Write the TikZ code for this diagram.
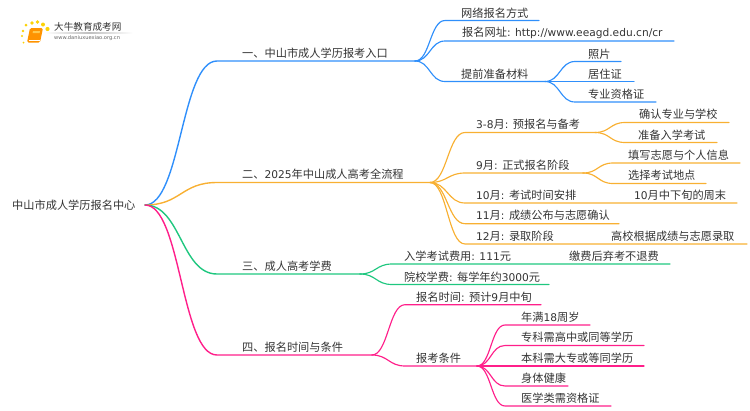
\documentclass[tikz,border=0pt]{standalone}
\usepackage{fontspec}
\setmainfont{Noto Sans CJK SC}
\newfontfamily\latf[Scale=0.95]{DejaVu Sans}
\newcommand\lat[1]{{\latf #1}}
\definecolor{cblue}{HTML}{2F8FFB}
\definecolor{corange}{HTML}{F8B032}
\definecolor{cgreen}{HTML}{1FC77F}
\definecolor{cpink}{HTML}{FF1F8A}
\definecolor{ctext}{HTML}{333333}
\tikzset{
  label/.style={anchor=west,inner sep=0pt,text=ctext,font=\fontsize{11.2}{13}\selectfont},
  link/.style={line width=1.15pt,line cap=round},
  main/.style={line width=1.4pt,line cap=round},
  dot/.style={fill=#1,draw=none},
}
\newcommand\linkk[5]{\draw[#1] (#2) .. controls ([xshift=#5pt]#2) and ([xshift=-#5pt]#3) .. (#3) -- (#4);}
\begin{document}
\begin{tikzpicture}[x=1pt,y=-1pt]
\useasboundingbox (0,0) rectangle (750,410);
% logo
\fill[dot=yellow!70!orange] (23,31) circle (1.3);
\fill[dot=yellow!70!orange] (26,25) circle (1.5);
\fill[dot=yellow!70!orange] (32,23) circle (1.8);
\fill[dot=yellow!70!orange] (37.5,22) circle (1.9);
\fill[dot=yellow!70!orange] (43,24.5) circle (2);
\fill[dot=yellow!70!orange] (47.5,29) circle (2.1);
\fill[dot=yellow!70!orange] (22,36) circle (1.1);
\fill[dot=yellow!70!orange] (23.5,42.5) circle (1);
\fill[orange!85!yellow,rounded corners=1.5pt] (30,28) -- (43,28) -- (40,42.5) -- (27,42.5) -- cycle;
\fill[orange!60!yellow!70!white] (33,31) -- (40,31) -- (39.6,33) -- (32.6,33) -- cycle;
\draw[white,line width=.5pt] (28.5,40.5) -- (40,40.5);
\shade[left color=white,right color=white,middle color=black!25] (45,32.9) rectangle (133,33.4);
\node[label,font=\fontsize{9.6}{11}\selectfont] (logoa) at (54,27) {大牛教育成考网};
\node[label,font=\fontsize{5.4}{6}\selectfont\latf,text=black!60] (logob) at (54,38.5) {www.daniuxuexiao.org.cn};
% text
\node[label] (root) at (12,205) {中山市成人学历报名中心};
\node[label] (ta) at (242,53) {一、中山市成人学历报考入口};
\node[label] (tb) at (242,174) {二、\lat{2025}年中山成人高考全流程};
\node[label] (tc) at (242,266) {三、成人高考学费};
\node[label] (td) at (242,347) {四、报名时间与条件};
\node[label] (aa) at (461,13) {网络报名方式};
\node[label] (ab) at (462,33) {报名网址\lat{: http://www.eeagd.edu.cn/cr}};
\node[label] (ac) at (461,74) {提前准备材料};
\node[label] (aca) at (588,54) {照片};
\node[label] (acb) at (588,74) {居住证};
\node[label] (acc) at (588,94) {专业资格证};
\node[label] (ba) at (476,124) {\lat{3-8}月\lat{: }预报名与备考};
\node[label] (baa) at (639,114) {确认专业与学校};
\node[label] (bab) at (638,135) {准备入学考试};
\node[label] (bb) at (476,165) {\lat{9}月\lat{: }正式报名阶段};
\node[label] (bba) at (628,155) {填写志愿与个人信息};
\node[label] (bbb) at (628,175) {选择考试地点};
\node[label] (bc) at (476,195) {\lat{10}月\lat{: }考试时间安排};
\node[label] (bca) at (634,195) {\lat{10}月中下旬的周末};
\node[label] (bd) at (476,215) {\lat{11}月\lat{: }成绩公布与志愿确认};
\node[label] (be) at (476,236) {\lat{12}月\lat{: }录取阶段};
\node[label] (bea) at (611,236) {高校根据成绩与志愿录取};
\node[label] (ca) at (404,256) {入学考试费用\lat{: 111}元};
\node[label] (caa) at (569,256) {缴费后弃考不退费};
\node[label] (cb) at (404,277) {院校学费\lat{: }每学年约\lat{3000}元};
\node[label] (da) at (416,297) {报名时间\lat{: }预计\lat{9}月中旬};
\node[label] (db) at (416,358) {报考条件};
\node[label] (dba) at (521,317) {年满\lat{18}周岁};
\node[label] (dbb) at (521,337) {专科需高中或同等学历};
\node[label] (dbc) at (521,358) {本科需大专或等同学历};
\node[label] (dbd) at (521,378) {身体健康};
\node[label] (dbe) at (521,398) {医学类需资格证};
% hubs and line ends
\coordinate (hr) at (145,205);
\coordinate (pa) at (217,61);  \coordinate (ea) at (415,61);
\coordinate (pb) at (217,182.5); \coordinate (eb) at (430,182.5);
\coordinate (pc) at (217,274); \coordinate (ec) at (360,274);
\coordinate (pd) at (217,355); \coordinate (ed) at (372,355);
\coordinate (paa) at (445,20.5); \coordinate (eaa) at (539,20.5);
\coordinate (pab) at (445,41);   \coordinate (eab) at (674,41);
\coordinate (pac) at (445,81.5); \coordinate (eac) at (545,81.5);
\coordinate (paca) at (575,61.5); \coordinate (eaca) at (621,61.5);
\coordinate (pacb) at (575,81.5); \coordinate (eacb) at (634,81.5);
\coordinate (pacc) at (575,102);  \coordinate (eacc) at (656,102);
\coordinate (pba) at (465,132.5); \coordinate (eba) at (595,132.5);
\coordinate (pbaa) at (625,122.5); \coordinate (ebaa) at (729,122.5);
\coordinate (pbab) at (625,142.5); \coordinate (ebab) at (717,142.5);
\coordinate (pbb) at (465,173); \coordinate (ebb) at (583,173);
\coordinate (pbba) at (613,163); \coordinate (ebba) at (740,163);
\coordinate (pbbb) at (613,183.5); \coordinate (ebbb) at (706,183.5);
\coordinate (pbc) at (465,203); \coordinate (ebc) at (737,203);
\coordinate (pbd) at (465,223.7); \coordinate (ebd) at (619,223.7);
\coordinate (pbe) at (465,244); \coordinate (ebe) at (747,244);
\coordinate (pca) at (392,264); \coordinate (eca) at (670,264);
\coordinate (pcb) at (392,284.5); \coordinate (ecb) at (549,284.5);
\coordinate (pda) at (405,304.7); \coordinate (eda) at (541,304.7);
\coordinate (pdb) at (405,366); \coordinate (edb) at (477,366);
\coordinate (pdba) at (505,325); \coordinate (edba) at (590,325);
\coordinate (pdbb) at (505,345.5); \coordinate (edbb) at (644,345.5);
\coordinate (pdbc) at (505,366); \coordinate (edbc) at (644,366);
\coordinate (pdbd) at (505,386); \coordinate (edbd) at (568,386);
\coordinate (pdbe) at (505,406); \coordinate (edbe) at (611,406);
% blue
\linkk{main,cblue}{hr}{pa}{ea}{36}
\linkk{link,cblue}{ea}{paa}{eaa}{15}
\linkk{link,cblue}{ea}{pab}{eab}{15}
\linkk{link,cblue}{ea}{pac}{eac}{15}
\linkk{link,cblue}{eac}{paca}{eaca}{15}
\linkk{link,cblue}{eac}{pacb}{eacb}{15}
\linkk{link,cblue}{eac}{pacc}{eacc}{15}
% orange
\linkk{main,corange}{hr}{pb}{eb}{36}
\linkk{link,corange}{eb}{pba}{eba}{17}
\linkk{link,corange}{eb}{pbb}{ebb}{17}
\linkk{link,corange}{eb}{pbc}{ebc}{17}
\linkk{link,corange}{eb}{pbd}{ebd}{17}
\linkk{link,corange}{eb}{pbe}{ebe}{17}
\linkk{link,corange}{eba}{pbaa}{ebaa}{15}
\linkk{link,corange}{eba}{pbab}{ebab}{15}
\linkk{link,corange}{ebb}{pbba}{ebba}{15}
\linkk{link,corange}{ebb}{pbbb}{ebbb}{15}
% green
\linkk{main,cgreen}{hr}{pc}{ec}{36}
\linkk{link,cgreen}{ec}{pca}{eca}{16}
\linkk{link,cgreen}{ec}{pcb}{ecb}{16}
% pink
\linkk{main,cpink}{hr}{pd}{ed}{36}
\linkk{link,cpink}{ed}{pda}{eda}{16}
\linkk{link,cpink}{ed}{pdb}{edb}{16}
\linkk{link,cpink}{edb}{pdba}{edba}{14}
\linkk{link,cpink}{edb}{pdbb}{edbb}{14}
\linkk{link,cpink}{edb}{pdbc}{edbc}{14}
\linkk{link,cpink}{edb}{pdbd}{edbd}{14}
\linkk{link,cpink}{edb}{pdbe}{edbe}{14}
\end{tikzpicture}
\end{document}
